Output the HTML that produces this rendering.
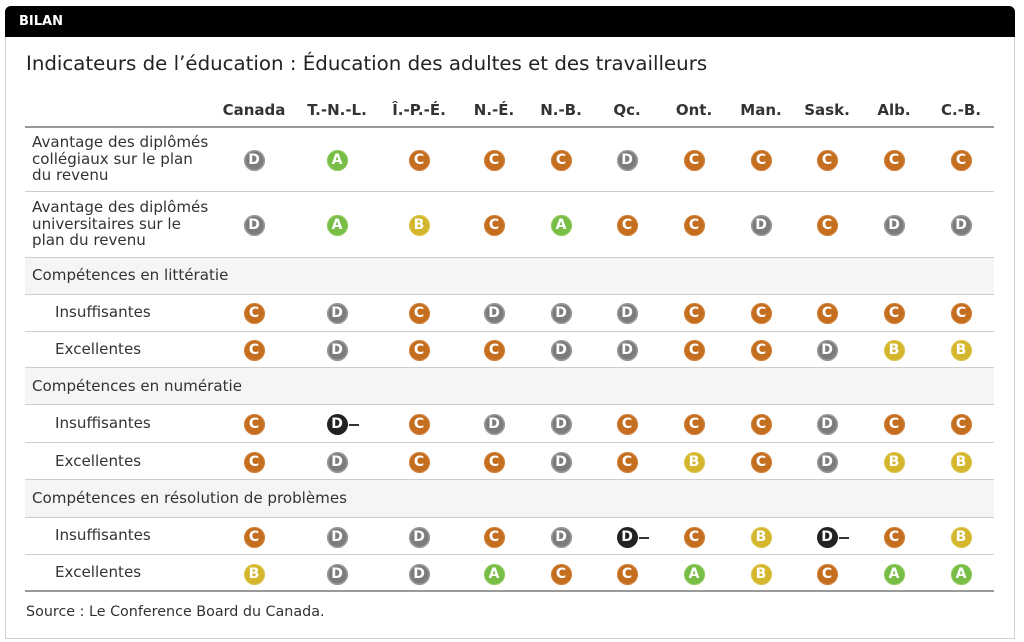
<!DOCTYPE html>
<html><head><meta charset="utf-8">
<style>
*{margin:0;padding:0;box-sizing:border-box}
html,body{width:1024px;height:642px;background:#fff;overflow:hidden}
body{position:relative;font-family:"DejaVu Sans","Liberation Sans",sans-serif;color:#333}
.frame{position:absolute;left:5px;top:6px;width:1010px;height:633px;border:1px solid #cfcfcf;border-radius:6px 6px 0 0}
.hdr{position:absolute;left:5px;top:6px;width:1010px;height:31px;background:#000;border-radius:6px 6px 0 0}
.hdr span{position:absolute;left:14px;top:8px;color:#fff;font-weight:bold;font-size:13px;line-height:15px}
.title{position:absolute;left:26px;top:51px;font-size:19.8px;line-height:25px;color:#222;white-space:nowrap}
.colh{position:absolute;top:101px;font-size:15px;font-weight:bold;color:#333;line-height:18px;width:100px;margin-left:-50px;text-align:center;white-space:nowrap}
.line{position:absolute;left:25px;width:969px;height:1px;background:#cdcdcd}
.line.dk{height:2px;background:#9a9a9a}
.sec{position:absolute;left:25px;width:969px;background:#f5f5f5}
.lab{position:absolute;left:32px;font-size:15.1px;line-height:16.5px;color:#333;white-space:nowrap}
.sub{left:55px}
.ic{position:absolute;width:21px;height:21px;border-radius:50%;color:#fff;font-weight:bold;font-size:14px;line-height:21px;text-align:center;margin-left:-10.5px;margin-top:-10.5px}
.A{background:#78bd45;box-shadow:inset 0 0 0 1px #8fcc60}
.B{background:#d3b62b;box-shadow:inset 0 0 0 1px #e0c650}
.C{background:#c46e1f;box-shadow:inset 0 0 0 1px #d48440}
.D{background:#7c7c7c;box-shadow:inset 0 0 0 1.5px #9a9a9a}
.X{background:#222}
.X:after{content:"";position:absolute;left:22px;top:10px;width:10px;height:2px;background:#333}
.src{position:absolute;left:26px;top:603px;font-size:14.3px;line-height:18px;color:#333;white-space:nowrap}
</style></head><body>
<div class="frame"></div>
<div class="hdr"><span>BILAN</span></div>
<div class="title">Indicateurs de l’éducation : Éducation des adultes et des travailleurs</div>

<div class="colh" style="left:254px">Canada</div>
<div class="colh" style="left:337px">T.-N.-L.</div>
<div class="colh" style="left:419px">Î.-P.-É.</div>
<div class="colh" style="left:494px">N.-É.</div>
<div class="colh" style="left:561px">N.-B.</div>
<div class="colh" style="left:627px">Qc.</div>
<div class="colh" style="left:694px">Ont.</div>
<div class="colh" style="left:761px">Man.</div>
<div class="colh" style="left:827px">Sask.</div>
<div class="colh" style="left:894px">Alb.</div>
<div class="colh" style="left:961px">C.-B.</div>

<div class="sec" style="top:257px;height:37px"></div>
<div class="sec" style="top:367px;height:37px"></div>
<div class="sec" style="top:479px;height:38px"></div>

<div class="line dk" style="top:126px"></div>
<div class="line" style="top:191px"></div>
<div class="line" style="top:257px"></div>
<div class="line" style="top:294px"></div>
<div class="line" style="top:331px"></div>
<div class="line" style="top:367px"></div>
<div class="line" style="top:404px"></div>
<div class="line" style="top:442px"></div>
<div class="line" style="top:479px"></div>
<div class="line" style="top:517px"></div>
<div class="line" style="top:554px"></div>
<div class="line dk" style="top:590px"></div>

<div class="lab" style="top:134px">Avantage des diplômés<br>collégiaux sur le plan<br>du revenu</div>
<div class="lab" style="top:199px">Avantage des diplômés<br>universitaires sur le<br>plan du revenu</div>
<div class="lab" style="top:267px">Compétences en littératie</div>
<div class="lab sub" style="top:304px">Insuffisantes</div>
<div class="lab sub" style="top:341px">Excellentes</div>
<div class="lab" style="top:378px">Compétences en numératie</div>
<div class="lab sub" style="top:415px">Insuffisantes</div>
<div class="lab sub" style="top:453px">Excellentes</div>
<div class="lab" style="top:490px">Compétences en résolution de problèmes</div>
<div class="lab sub" style="top:527px">Insuffisantes</div>
<div class="lab sub" style="top:564px">Excellentes</div>

<div class="ic D" style="left:254px;top:160px">D</div>
<div class="ic A" style="left:337px;top:160px">A</div>
<div class="ic C" style="left:419px;top:160px">C</div>
<div class="ic C" style="left:494px;top:160px">C</div>
<div class="ic C" style="left:561px;top:160px">C</div>
<div class="ic D" style="left:627px;top:160px">D</div>
<div class="ic C" style="left:694px;top:160px">C</div>
<div class="ic C" style="left:761px;top:160px">C</div>
<div class="ic C" style="left:827px;top:160px">C</div>
<div class="ic C" style="left:894px;top:160px">C</div>
<div class="ic C" style="left:961px;top:160px">C</div>

<div class="ic D" style="left:254px;top:225px">D</div>
<div class="ic A" style="left:337px;top:225px">A</div>
<div class="ic B" style="left:419px;top:225px">B</div>
<div class="ic C" style="left:494px;top:225px">C</div>
<div class="ic A" style="left:561px;top:225px">A</div>
<div class="ic C" style="left:627px;top:225px">C</div>
<div class="ic C" style="left:694px;top:225px">C</div>
<div class="ic D" style="left:761px;top:225px">D</div>
<div class="ic C" style="left:827px;top:225px">C</div>
<div class="ic D" style="left:894px;top:225px">D</div>
<div class="ic D" style="left:961px;top:225px">D</div>

<div class="ic C" style="left:254px;top:313px">C</div>
<div class="ic D" style="left:337px;top:313px">D</div>
<div class="ic C" style="left:419px;top:313px">C</div>
<div class="ic D" style="left:494px;top:313px">D</div>
<div class="ic D" style="left:561px;top:313px">D</div>
<div class="ic D" style="left:627px;top:313px">D</div>
<div class="ic C" style="left:694px;top:313px">C</div>
<div class="ic C" style="left:761px;top:313px">C</div>
<div class="ic C" style="left:827px;top:313px">C</div>
<div class="ic C" style="left:894px;top:313px">C</div>
<div class="ic C" style="left:961px;top:313px">C</div>

<div class="ic C" style="left:254px;top:350px">C</div>
<div class="ic D" style="left:337px;top:350px">D</div>
<div class="ic C" style="left:419px;top:350px">C</div>
<div class="ic C" style="left:494px;top:350px">C</div>
<div class="ic D" style="left:561px;top:350px">D</div>
<div class="ic D" style="left:627px;top:350px">D</div>
<div class="ic C" style="left:694px;top:350px">C</div>
<div class="ic C" style="left:761px;top:350px">C</div>
<div class="ic D" style="left:827px;top:350px">D</div>
<div class="ic B" style="left:894px;top:350px">B</div>
<div class="ic B" style="left:961px;top:350px">B</div>

<div class="ic C" style="left:254px;top:424px">C</div>
<div class="ic X" style="left:337px;top:424px">D</div>
<div class="ic C" style="left:419px;top:424px">C</div>
<div class="ic D" style="left:494px;top:424px">D</div>
<div class="ic D" style="left:561px;top:424px">D</div>
<div class="ic C" style="left:627px;top:424px">C</div>
<div class="ic C" style="left:694px;top:424px">C</div>
<div class="ic C" style="left:761px;top:424px">C</div>
<div class="ic D" style="left:827px;top:424px">D</div>
<div class="ic C" style="left:894px;top:424px">C</div>
<div class="ic C" style="left:961px;top:424px">C</div>

<div class="ic C" style="left:254px;top:462px">C</div>
<div class="ic D" style="left:337px;top:462px">D</div>
<div class="ic C" style="left:419px;top:462px">C</div>
<div class="ic C" style="left:494px;top:462px">C</div>
<div class="ic D" style="left:561px;top:462px">D</div>
<div class="ic C" style="left:627px;top:462px">C</div>
<div class="ic B" style="left:694px;top:462px">B</div>
<div class="ic C" style="left:761px;top:462px">C</div>
<div class="ic D" style="left:827px;top:462px">D</div>
<div class="ic B" style="left:894px;top:462px">B</div>
<div class="ic B" style="left:961px;top:462px">B</div>

<div class="ic C" style="left:254px;top:537px">C</div>
<div class="ic D" style="left:337px;top:537px">D</div>
<div class="ic D" style="left:419px;top:537px">D</div>
<div class="ic C" style="left:494px;top:537px">C</div>
<div class="ic D" style="left:561px;top:537px">D</div>
<div class="ic X" style="left:627px;top:537px">D</div>
<div class="ic C" style="left:694px;top:537px">C</div>
<div class="ic B" style="left:761px;top:537px">B</div>
<div class="ic X" style="left:827px;top:537px">D</div>
<div class="ic C" style="left:894px;top:537px">C</div>
<div class="ic B" style="left:961px;top:537px">B</div>

<div class="ic B" style="left:254px;top:574px">B</div>
<div class="ic D" style="left:337px;top:574px">D</div>
<div class="ic D" style="left:419px;top:574px">D</div>
<div class="ic A" style="left:494px;top:574px">A</div>
<div class="ic C" style="left:561px;top:574px">C</div>
<div class="ic C" style="left:627px;top:574px">C</div>
<div class="ic A" style="left:694px;top:574px">A</div>
<div class="ic B" style="left:761px;top:574px">B</div>
<div class="ic C" style="left:827px;top:574px">C</div>
<div class="ic A" style="left:894px;top:574px">A</div>
<div class="ic A" style="left:961px;top:574px">A</div>

<div class="src">Source : Le Conference Board du Canada.</div>
</body></html>
